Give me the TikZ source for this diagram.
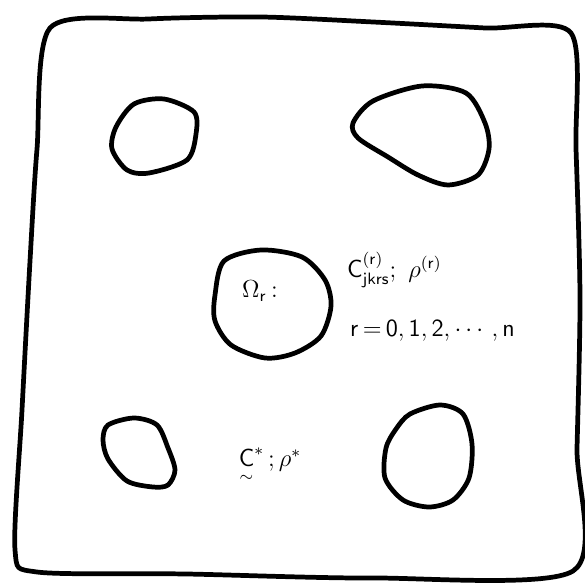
\documentclass[tikz,border=0pt]{standalone}
\usepackage{amsmath, amssymb}
\usepackage{tikz}
\usetikzlibrary{calc, positioning}

\begin{document}
\begin{tikzpicture}[x=0.017094cm, y=-0.017094cm, line width=2.3pt, line join=round,
    lbl/.style={font=\large}]
    \useasboundingbox (0,0) rectangle (585,585);
    % Vẽ biên ngoài
    \draw plot[smooth cycle, tension=0.45] coordinates {
        (50,28) (149,19) (261,17) (373,22) (485,28) (571,33)
        (576,149) (580,298) (577,448) (573,571)
        (373,578) (187,574) (37,572) (15,550)
        (22,410) (30,261) (37,149)};
    
    % Vẽ các lỗ
    \draw plot[smooth cycle] coordinates {
        (164,99) (194,112) (196,134) (187,160) (149,173) (127,170) (112,149) (116,127) (134,104)};
    \draw plot[smooth cycle] coordinates {
        (353,123) (373,101) (422,86) (466,93) (485,123) (489,149) (478,175) (448,185) (418,175) (388,157) (358,138)};
    \draw plot[smooth cycle] coordinates {
        (224,261) (261,250) (302,257) (325,280) (331,306) (321,336) (295,353) (265,358) (231,345) (215,321) (215,295)};
    \draw plot[smooth cycle] coordinates {
        (108,425) (134,418) (157,425) (168,448) (175,470) (168,485) (153,487) (127,481) (108,459) (103,440)};
    \draw plot[smooth cycle] coordinates {
        (410,414) (440,405) (463,414) (472,444) (469,478) (453,500) (429,507) (403,500) (385,478) (386,448) (396,429)};
    
    % Nhãn
    \node[lbl] (omega) at (260,291) {$\Omega_{\mathsf{r}}$\,:};
    \node[lbl, right] (coef) at (338,270) {$\mathsf{C}^{(\mathsf{r})}_{\mathsf{jkrs}};\ \rho^{(\mathsf{r})}$};
    \node[lbl, right] (range) at (341,331) {$\mathsf{r\,{=}\,0,1,2,\cdots,n}$};
    \node[lbl] (stiff) at (270,466) {$\underset{\sim}{\mathsf{C}}^{*}\,;\rho^{*}$};
    
\end{tikzpicture}
\end{document}
